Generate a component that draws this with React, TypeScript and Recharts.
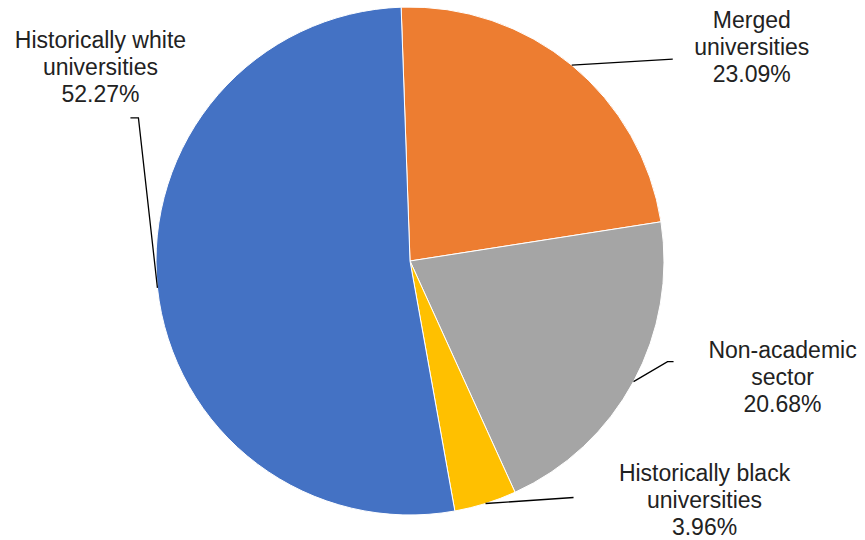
import { PieChart, Pie, Cell } from 'recharts'

// share of graduates by destination, read clockwise from the top
const categories = [
  'Merged\nuniversities',
  'Non-academic\nsector',
  'Historically black\nuniversities',
  'Historically white\nuniversities',
]
const shares = [23.09, 20.68, 3.96, 52.27]
const colors = ['#ED7D31', '#A5A5A5', '#FFC000', '#4472C4']

// leader line / text placement, relative to the point where the line leaves the slice
const labelLayout = [
  { line: [[101, -6]], tx: 180, ty: -37 },
  { line: [[34, -20], [40, -20]], tx: 149, ty: -24 },
  { line: [[88, -6]], tx: 219, ty: -23 },
  { line: [[-19, -170], [-27, -170]], tx: -57, ty: -240 },
]

const data = categories.map((name, i) => ({ name, value: shares[i] }))

const RADIAN = Math.PI / 180

function SliceLabel(props: any) {
  const { cx, cy, midAngle, outerRadius, index, value, name } = props
  const x0 = cx + outerRadius * Math.cos(-midAngle * RADIAN)
  const y0 = cy + outerRadius * Math.sin(-midAngle * RADIAN)
  const layout = labelLayout[index]
  const pts = [[0, 0], ...layout.line].map(([dx, dy]) => `${x0 + dx},${y0 + dy}`).join(' ')
  const lines = [...String(name).split('\n'), `${Number(value).toFixed(2)}%`]
  return (
    <g>
      <polyline points={pts} fill="none" stroke="#000" strokeWidth={1.3} />
      <text
        x={x0 + layout.tx}
        y={y0 + layout.ty}
        textAnchor="middle"
        fill="#222"
        fontSize={23}
        fontFamily="'Liberation Sans', Arial, sans-serif"
      >
        {lines.map((line, i) => (
          <tspan key={i} x={x0 + layout.tx} dy={i === 0 ? 0 : 27}>
            {line}
          </tspan>
        ))}
      </text>
    </g>
  )
}

export default function App() {
  return (
    <div style={{ position: 'absolute', left: 0, top: 0, width: 865, height: 540, background: '#fff' }}>
      <PieChart width={865} height={540} margin={{ top: 0, right: 0, bottom: 0, left: 0 }}>
        <Pie
          data={data}
          dataKey="value"
          nameKey="name"
          cx={410}
          cy={261}
          outerRadius={254}
          startAngle={92}
          endAngle={-268}
          stroke="#fff"
          strokeWidth={1}
          label={<SliceLabel />}
          labelLine={false}
          isAnimationActive={false}
        >
          {data.map((d, i) => (
            <Cell key={d.name} fill={colors[i]} />
          ))}
        </Pie>
      </PieChart>
    </div>
  )
}
